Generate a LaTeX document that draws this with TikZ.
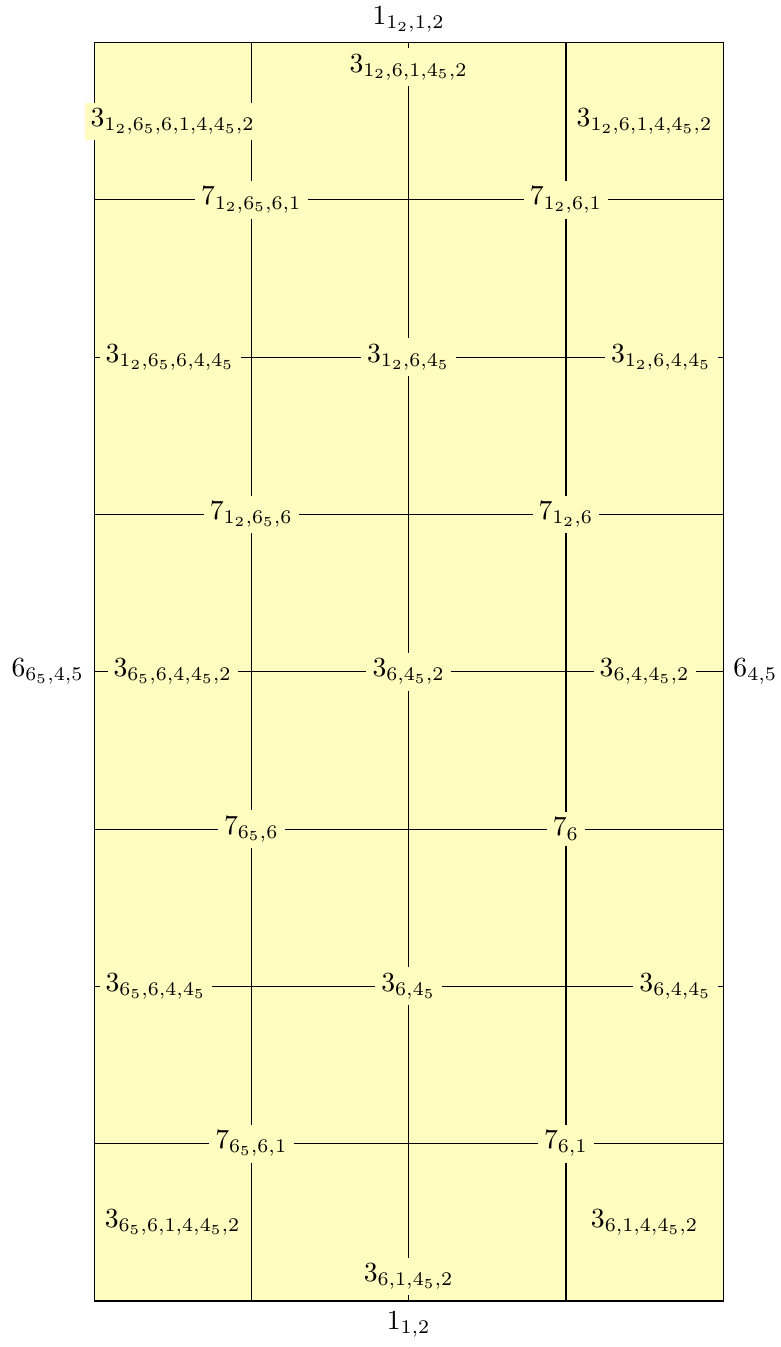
\documentclass[tikz,border=0pt]{standalone}
\usepackage{tikz}
\usetikzlibrary{backgrounds,positioning}
\colorlet{cellbg}{yellow!25}
\tikzset{lbl/.style={fill=cellbg,inner sep=2pt}}
\tikzset{outlbl/.style={inner sep=2pt}}
\begin{document}
\begin{tikzpicture}[x=2cm,y=2cm]
\useasboundingbox(-0.598,-0.2925)rectangle(4.361,8.271);
\foreach \i in {1,...,7}{\coordinate(L\i)at(0,\i);\coordinate(R\i)at(4,\i);}
\foreach \i in {1,2,3}{\coordinate(T\i)at(\i,8);\coordinate(B\i)at(\i,0);}
\begin{scope}[every node/.style={lbl}]
\node(tl)at(0.5,7.5){$3_{1_2,6_5,6,1,4,4_5,2}$};\node(tm)[below=2pt]at(T2){$3_{1_2,6,1,4_5,2}$};\node(tr)at(3.5,7.5){$3_{1_2,6,1,4,4_5,2}$};
\node(l6)[right=2pt]at(L6){$3_{1_2,6_5,6,4,4_5}$};\node(m6)at(2,6){$3_{1_2,6,4_5}$};\node(r6)[left=2pt]at(R6){$3_{1_2,6,4,4_5}$};
\node(l4)at(0.5,4){$3_{6_5,6,4,4_5,2}$};\node(m4)at(2,4){$3_{6,4_5,2}$};\node(r4)at(3.5,4){$3_{6,4,4_5,2}$};
\node(l2)[right=2pt]at(L2){$3_{6_5,6,4,4_5}$};\node(m2)at(2,2){$3_{6,4_5}$};\node(r2)[left=2pt]at(R2){$3_{6,4,4_5}$};
\node(bl)at(0.5,0.5){$3_{6_5,6,1,4,4_5,2}$};\node(bm)[above=2pt]at(B2){$3_{6,1,4_5,2}$};\node(br)at(3.5,0.5){$3_{6,1,4,4_5,2}$};
\node(p7)at(1,7){$7_{1_2,6_5,6,1}$};\node(q7)at(3,7){$7_{1_2,6,1}$};
\node(p5)at(1,5){$7_{1_2,6_5,6}$};\node(q5)at(3,5){$7_{1_2,6}$};
\node(p3)at(1,3){$7_{6_5,6}$};\node(q3)at(3,3){$7_6$};
\node(p1)at(1,1){$7_{6_5,6,1}$};\node(q1)at(3,1){$7_{6,1}$};
\end{scope}
\begin{scope}[every node/.style={outlbl}]
\node(ot)[above=1.5pt]at(T2){$1_{1_2,1,2}$};\node(ob)[below=1.5pt]at(B2){$1_{1,2}$};
\node(ol)[left=1.5pt]at(L4){$6_{6_5,4,5}$};\node(or)[right=1.5pt]at(R4){$6_{4,5}$};
\end{scope}
\begin{pgfonlayer}{background}
\draw[fill=cellbg](0,0)rectangle(4,8);
\draw(T1)--(p7)--(p5)--(p3)--(p1)--(B1);\draw(T3)--(q7)--(q5)--(q3)--(q1)--(B3);
\draw(T2)--(tm)--(m6)--(m4)--(m2)--(bm)--(B2);
\foreach \i in {7,5,3,1}{\draw(L\i)--(p\i)--(q\i)--(R\i);}
\foreach \i in {6,4,2}{\draw(L\i)--(l\i)--(m\i)--(r\i)--(R\i);}
\end{pgfonlayer}
\end{tikzpicture}
\end{document}
